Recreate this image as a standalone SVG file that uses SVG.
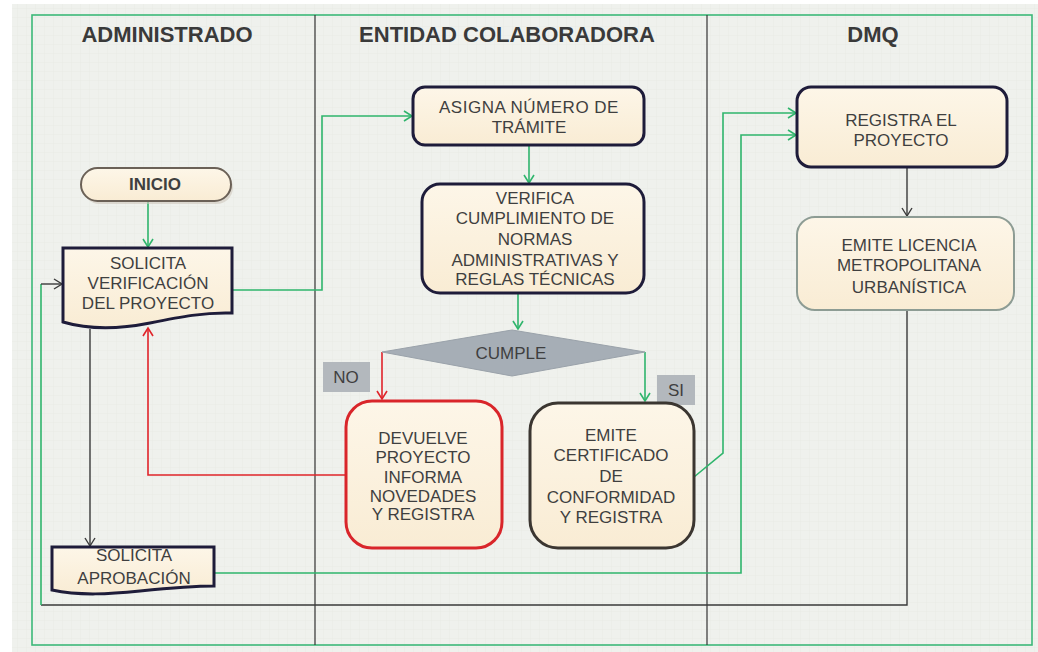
<svg xmlns="http://www.w3.org/2000/svg" width="1038" height="652" viewBox="0 0 1038 652">
  <defs>
    <pattern id="grid" width="9" height="9" patternUnits="userSpaceOnUse">
      <path d="M9 0V9H0" fill="none" stroke="#e5e8e3" stroke-width="0.6"/>
    </pattern>
    <linearGradient id="cream" x1="0" y1="0" x2="0" y2="1">
      <stop offset="0" stop-color="#fdf6e8"/>
      <stop offset="1" stop-color="#f9ecd4"/>
    </linearGradient>
    <marker id="arrG" markerWidth="12" markerHeight="12" refX="10" refY="6" orient="auto" markerUnits="userSpaceOnUse">
      <path d="M2,1 L10,6 L2,11" fill="none" stroke="#2fb56c" stroke-width="1.6"/>
    </marker>
    <marker id="arrR" markerWidth="12" markerHeight="12" refX="10" refY="6" orient="auto" markerUnits="userSpaceOnUse">
      <path d="M2,1 L10,6 L2,11" fill="none" stroke="#e0242a" stroke-width="1.6"/>
    </marker>
    <marker id="arrK" markerWidth="12" markerHeight="12" refX="10" refY="6" orient="auto" markerUnits="userSpaceOnUse">
      <path d="M2,1 L10,6 L2,11" fill="none" stroke="#3a3a3a" stroke-width="1.4"/>
    </marker>
    <style>
      .hdr { font-family: "Liberation Sans", Arial, sans-serif; font-weight: bold; font-size: 22px; fill: #3a3a3a; text-anchor: middle; }
      .t { font-family: "Liberation Sans", Arial, sans-serif; font-size: 17px; fill: #3f3f3f; text-anchor: middle; }
      .box { fill: url(#cream); }
      .navy { stroke: #1e1c3a; stroke-width: 3; }
      .g { fill: none; stroke: #2fb56c; stroke-width: 1.6; }
      .r { fill: none; stroke: #e0242a; stroke-width: 1.6; }
      .k { fill: none; stroke: #3a3a3a; stroke-width: 1.4; }
      .lane { stroke: #333; stroke-width: 1.2; }
      .lbl { fill: #b3b8bd; }
    </style>
  </defs>

  <!-- background -->
  <rect x="0" y="0" width="1038" height="652" fill="#ffffff"/>
  <rect x="12" y="4" width="1026" height="648" fill="#eff1ed"/>
  <rect x="12" y="4" width="1026" height="648" fill="url(#grid)"/>

  <!-- pool / lanes -->
  <g id="lanes">
    <rect x="32" y="15" width="1000" height="630" fill="none" stroke="#3cb878" stroke-width="1.6"/>
    <line class="lane" x1="315" y1="15" x2="315" y2="645"/>
    <line class="lane" x1="707" y1="15" x2="707" y2="645"/>
    <text class="hdr" x="167" y="42">ADMINISTRADO</text>
    <text class="hdr" x="507" y="42">ENTIDAD COLABORADORA</text>
    <text class="hdr" x="873" y="42">DMQ</text>
  </g>

  <!-- connectors -->
  <g id="connectors">
    <line class="g" x1="148" y1="202" x2="148" y2="247" marker-end="url(#arrG)"/>
    <polyline class="g" points="232,290 322,290 322,116 412,116" marker-end="url(#arrG)"/>
    <line class="g" x1="529" y1="145" x2="529" y2="183" marker-end="url(#arrG)"/>
    <line class="g" x1="518" y1="293" x2="518" y2="329" marker-end="url(#arrG)"/>
    <polyline class="r" points="382,352 382,399" marker-end="url(#arrR)"/>
    <polyline class="g" points="645,352 645,401" marker-end="url(#arrG)"/>
    <polyline class="r" points="346,475 148,475 148,328" marker-end="url(#arrR)"/>
    <line class="k" x1="90" y1="329" x2="90" y2="546" marker-end="url(#arrK)"/>
    <polyline class="g" points="694,477 723,453 723,113 796,113" marker-end="url(#arrG)"/>
    <polyline class="g" points="214,573 741,573 741,135 796,135" marker-end="url(#arrG)"/>
    <line class="k" x1="907" y1="167" x2="907" y2="216" marker-end="url(#arrK)"/>
    <polyline class="k" points="907,310 907,605 41,605"/>
    <line class="g" x1="41" y1="605" x2="41" y2="284"/>
    <line class="k" x1="41" y1="284" x2="62" y2="284" marker-end="url(#arrK)"/>
  </g>

  <!-- nodes -->
  <g id="inicio">
    <rect x="83" y="171" width="150" height="33" rx="16.5" fill="#cfc8bd" opacity="0.6"/>
    <rect x="81" y="168" width="150" height="33" rx="16.5" class="box" stroke="#6b6157" stroke-width="2"/>
    <text class="t" x="155" y="190" font-weight="bold" font-size="17.5">INICIO</text>
  </g>

  <g id="solicita-verificacion">
    <path d="M63,248 H232 V313 C205,312 180,317 150,323 C120,329 90,330 63,322 Z" class="box navy"/>
    <text class="t" x="148" y="269">SOLICITA</text>
    <text class="t" x="148" y="289">VERIFICACIÓN</text>
    <text class="t" x="148" y="309">DEL PROYECTO</text>
  </g>

  <g id="solicita-aprobacion">
    <path d="M52,547 H214 V586 C190,586 170,588 140,591 C110,594 80,596 52,590 Z" class="box navy"/>
    <text class="t" x="134" y="561" font-size="18">SOLICITA</text>
    <text class="t" x="134" y="584" font-size="18">APROBACIÓN</text>
  </g>

  <g id="asigna">
    <rect x="413" y="87" width="231" height="58" rx="12" class="box navy"/>
    <text class="t" x="529" y="113" font-size="18" letter-spacing="0.5">ASIGNA NÚMERO DE</text>
    <text class="t" x="529" y="133" font-size="18">TRÁMITE</text>
  </g>

  <g id="verifica">
    <rect x="422" y="184" width="222" height="109" rx="18" class="box navy"/>
    <text class="t" x="535" y="204">VERIFICA</text>
    <text class="t" x="535" y="224">CUMPLIMIENTO DE</text>
    <text class="t" x="535" y="245">NORMAS</text>
    <text class="t" x="535" y="266">ADMINISTRATIVAS Y</text>
    <text class="t" x="535" y="285">REGLAS TÉCNICAS</text>
  </g>

  <g id="cumple">
    <polygon points="382,352 512,330 645,352 512,376" fill="#a6aeb6" stroke="#9aa2aa" stroke-width="1"/>
    <text class="t" x="511" y="359">CUMPLE</text>
  </g>

  <g id="label-no">
    <rect x="323" y="362" width="47" height="30" class="lbl"/>
    <text class="t" x="346" y="383">NO</text>
  </g>

  <g id="label-si">
    <rect x="657" y="375" width="38" height="30" class="lbl"/>
    <text class="t" x="676" y="396">SI</text>
  </g>

  <g id="devuelve">
    <rect x="346" y="401" width="156" height="147" rx="26" class="box" stroke="#d9252a" stroke-width="3"/>
    <text class="t" x="423" y="444" font-size="15">DEVUELVE</text>
    <text class="t" x="423" y="463" font-size="15">PROYECTO</text>
    <text class="t" x="423" y="483" font-size="15">INFORMA</text>
    <text class="t" x="423" y="502" font-size="15">NOVEDADES</text>
    <text class="t" x="423" y="520" font-size="15">Y REGISTRA</text>
  </g>

  <g id="emite-certificado">
    <rect x="530" y="403" width="164" height="145" rx="28" class="box" stroke="#3b3631" stroke-width="3"/>
    <text class="t" x="611" y="441" font-size="16.5">EMITE</text>
    <text class="t" x="611" y="461" font-size="16.5">CERTIFICADO</text>
    <text class="t" x="611" y="482" font-size="16.5">DE</text>
    <text class="t" x="611" y="503" font-size="16.5">CONFORMIDAD</text>
    <text class="t" x="611" y="523" font-size="16.5">Y REGISTRA</text>
  </g>

  <g id="registra">
    <rect x="797" y="87" width="210" height="80" rx="14" class="box navy"/>
    <text class="t" x="901" y="126" font-size="19">REGISTRA EL</text>
    <text class="t" x="901" y="146" font-size="19">PROYECTO</text>
  </g>

  <g id="emite-licencia">
    <rect x="797" y="217" width="217" height="93" rx="18" class="box" stroke="#8d9c94" stroke-width="2"/>
    <text class="t" x="909" y="251" font-size="18">EMITE LICENCIA</text>
    <text class="t" x="909" y="271" font-size="18">METROPOLITANA</text>
    <text class="t" x="909" y="293" font-size="18">URBANÍSTICA</text>
  </g>
</svg>
